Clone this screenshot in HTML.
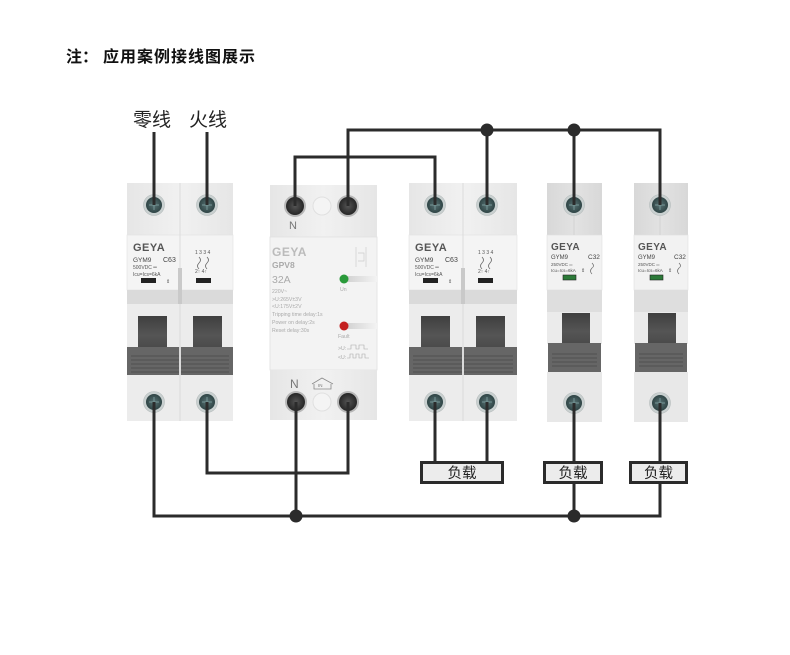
<!DOCTYPE html>
<html><head><meta charset="utf-8"><style>
html,body{margin:0;padding:0;background:#fff;}
svg{display:block;}
text{font-family:"Liberation Sans","Noto Sans CJK SC",sans-serif;}
</style></head><body>
<svg width="790" height="655" viewBox="0 0 790 655" xmlns="http://www.w3.org/2000/svg">
<defs>
<linearGradient id="topg" x1="0" x2="1" y1="0" y2="0">
<stop offset="0" stop-color="#e6e6e6"/><stop offset="0.5" stop-color="#f1f1f1"/><stop offset="1" stop-color="#e6e6e6"/></linearGradient>
<linearGradient id="topgs" x1="0" x2="1" y1="0" y2="0">
<stop offset="0" stop-color="#d8d8d8"/><stop offset="0.5" stop-color="#e2e2e2"/><stop offset="1" stop-color="#d8d8d8"/></linearGradient>
<linearGradient id="hdl" x1="0" x2="0" y1="0" y2="1">
<stop offset="0" stop-color="#3f3f3f"/><stop offset="0.6" stop-color="#555"/><stop offset="1" stop-color="#4a4a4a"/></linearGradient>
<linearGradient id="led" x1="0" x2="1" y1="0" y2="0">
<stop offset="0" stop-color="#cfcfcf"/><stop offset="1" stop-color="#f3f3f3"/></linearGradient>
<radialGradient id="scr" cx="0.5" cy="0.5" r="0.5">
<stop offset="0" stop-color="#587374"/><stop offset="1" stop-color="#2f4445"/></radialGradient>
<radialGradient id="scrd" cx="0.5" cy="0.5" r="0.5">
<stop offset="0" stop-color="#555"/><stop offset="1" stop-color="#262626"/></radialGradient>
</defs>

<!-- Title -->
<text x="66" y="62" font-size="16" font-weight="bold" fill="#111">注：</text>
<text x="103" y="62" font-size="16" font-weight="bold" fill="#111" letter-spacing="1">应用案例接线图展示</text>
<text x="133" y="126" font-size="19" fill="#222">零线</text>
<text x="189" y="126" font-size="19" fill="#222">火线</text>

<!-- ===== Breaker 1 (2-pole) x=127 ===== -->
<g>
<rect x="127" y="183" width="106" height="52" fill="url(#topg)"/>
<rect x="127" y="235" width="106" height="55" fill="#f4f4f4" stroke="#e2e2e2" stroke-width="0.6"/>
<rect x="127" y="290" width="106" height="14" fill="#dadada"/>
<rect x="127" y="304" width="106" height="44" fill="#ececec"/>
<rect x="138" y="316" width="29" height="32" fill="url(#hdl)"/>
<rect x="193" y="316" width="29" height="32" fill="url(#hdl)"/>
<rect x="127" y="347" width="52" height="28" fill="#666"/>
<rect x="181" y="347" width="52" height="28" fill="#666"/>
<g stroke="#505050" stroke-width="1"><line x1="131" y1="356" x2="229" y2="356"/><line x1="131" y1="360" x2="229" y2="360"/><line x1="131" y1="364" x2="229" y2="364"/><line x1="131" y1="368" x2="229" y2="368"/><line x1="131" y1="372" x2="229" y2="372"/></g>
<line x1="180" y1="347" x2="180" y2="375" stroke="#ddd" stroke-width="2"/>
<rect x="127" y="375" width="106" height="46" fill="#ececec"/>
<line x1="180" y1="183" x2="180" y2="421" stroke="#d6d6d6" stroke-width="0.8"/>
<rect x="178" y="268" width="4" height="36" fill="#c9c9c9"/>
<text x="133" y="251" font-size="11" font-weight="bold" fill="#555" letter-spacing="0.5">GEYA</text>
<text x="133" y="262" font-size="6.5" fill="#444">GYM9</text>
<text x="163" y="262" font-size="7" fill="#444">C63</text>
<text x="133" y="269" font-size="5" fill="#555">500VDC ═</text>
<text x="133" y="276" font-size="5" fill="#555">Icu=Ics=6kA</text>
<rect x="141" y="278" width="15" height="5" fill="#222"/>
<text x="166" y="283" font-size="5" fill="#555">⇕</text>
<rect x="196" y="278" width="15" height="5" fill="#222"/>
<text x="195" y="254" font-size="5" fill="#555">1 3 3 4</text>
<path d="M199 257 q3 3 0 6 q-3 3 0 6 M207 257 q3 3 0 6 q-3 3 0 6" stroke="#666" fill="none" stroke-width="0.8"/>
<text x="195" y="273" font-size="5" fill="#555">2↑ 4↑</text>
</g>

<!-- ===== GPV8 x=270 ===== -->
<g>
<rect x="270" y="185" width="107" height="52" fill="url(#topg)"/>
<rect x="270" y="237" width="107" height="133" fill="#f3f3f3" stroke="#e0e0e0" stroke-width="0.8"/>
<rect x="270" y="370" width="107" height="50" fill="url(#topg)"/>
<circle cx="322" cy="206" r="9" fill="#f4f4f4" stroke="#e0e0e0"/>
<circle cx="322" cy="402" r="9" fill="#f4f4f4" stroke="#e0e0e0"/>
<text x="289" y="229" font-size="11" fill="#777">N</text>
<text x="290" y="388" font-size="12" fill="#777">N</text>
<path d="M312 384 L322 378 L333 384 M314 384 V389 H331 V384" stroke="#888" fill="none" stroke-width="0.8"/>
<text x="318" y="387" font-size="4.5" fill="#777">IN</text>
<text x="272" y="256" font-size="12" font-weight="bold" fill="#bbb" letter-spacing="0.5">GEYA</text>
<text x="272" y="268" font-size="8.5" font-weight="bold" fill="#aaa">GPV8</text>
<text x="272" y="283" font-size="10.5" fill="#aaa">32A</text>
<g font-size="5.2" fill="#aaa">
<text x="272" y="293">220V~</text>
<text x="272" y="301">&gt;U:265V±3V</text>
<text x="272" y="308">&lt;U:175V±2V</text>
<text x="272" y="316">Tripping time delay:1s</text>
<text x="272" y="324">Power on delay:2s</text>
<text x="272" y="332">Reset delay:30s</text>
<text x="340" y="291">Un</text>
<text x="338" y="338">Fault</text>
<text x="338" y="350">&gt;U:</text>
<text x="338" y="359">&lt;U:</text>
</g>
<path d="M347 349 h4 v-4 h5 v4 h3 v-4 h5 v4 h4 M347 358 h3 v-4 h3 v4 h3 v-4 h3 v4 h3 v-4 h3 v4 h4" stroke="#aaa" fill="none" stroke-width="0.6"/>
<path d="M356 247 v20 M358 253 h6 v8 h-6 M366 247 v20" stroke="#ccc" fill="none" stroke-width="0.7"/>
<rect x="344" y="276" width="33" height="6" fill="url(#led)"/>
<circle cx="344" cy="279" r="4.5" fill="#2a9a3a"/>
<rect x="344" y="323" width="33" height="6" fill="url(#led)"/>
<circle cx="344" cy="326" r="4.5" fill="#c42020"/>
</g>

<!-- ===== Breaker 3 (2-pole) x=409 ===== -->
<g>
<rect x="409" y="183" width="108" height="52" fill="url(#topg)"/>
<rect x="409" y="235" width="108" height="55" fill="#f4f4f4" stroke="#e2e2e2" stroke-width="0.6"/>
<rect x="409" y="290" width="108" height="14" fill="#dadada"/>
<rect x="409" y="304" width="108" height="44" fill="#ececec"/>
<rect x="421" y="316" width="29" height="32" fill="url(#hdl)"/>
<rect x="476" y="316" width="29" height="32" fill="url(#hdl)"/>
<rect x="409" y="347" width="53" height="28" fill="#666"/>
<rect x="464" y="347" width="53" height="28" fill="#666"/>
<g stroke="#505050" stroke-width="1"><line x1="413" y1="356" x2="513" y2="356"/><line x1="413" y1="360" x2="513" y2="360"/><line x1="413" y1="364" x2="513" y2="364"/><line x1="413" y1="368" x2="513" y2="368"/><line x1="413" y1="372" x2="513" y2="372"/></g>
<line x1="463" y1="347" x2="463" y2="375" stroke="#ddd" stroke-width="2"/>
<rect x="409" y="375" width="108" height="46" fill="#ececec"/>
<line x1="463" y1="183" x2="463" y2="421" stroke="#d6d6d6" stroke-width="0.8"/>
<rect x="461" y="268" width="4" height="36" fill="#c9c9c9"/>
<text x="415" y="251" font-size="11" font-weight="bold" fill="#555" letter-spacing="0.5">GEYA</text>
<text x="415" y="262" font-size="6.5" fill="#444">GYM9</text>
<text x="445" y="262" font-size="7" fill="#444">C63</text>
<text x="415" y="269" font-size="5" fill="#555">500VDC ═</text>
<text x="415" y="276" font-size="5" fill="#555">Icu=Ics=6kA</text>
<rect x="423" y="278" width="15" height="5" fill="#222"/>
<text x="448" y="283" font-size="5" fill="#555">⇕</text>
<rect x="478" y="278" width="15" height="5" fill="#222"/>
<text x="478" y="254" font-size="5" fill="#555">1 3 3 4</text>
<path d="M482 257 q3 3 0 6 q-3 3 0 6 M490 257 q3 3 0 6 q-3 3 0 6" stroke="#666" fill="none" stroke-width="0.8"/>
<text x="478" y="273" font-size="5" fill="#555">2↑ 4↑</text>
</g>

<!-- ===== Single breaker 4 x=547 ===== -->
<g>
<rect x="547" y="183" width="55" height="52" fill="url(#topgs)"/>
<rect x="547" y="235" width="55" height="55" fill="#f2f2f2" stroke="#e0e0e0" stroke-width="0.6"/>
<rect x="547" y="290" width="55" height="22" fill="#dedede"/>
<rect x="547" y="312" width="55" height="32" fill="#ebebeb"/>
<rect x="562" y="313" width="28" height="31" fill="url(#hdl)"/>
<rect x="548" y="343" width="53" height="29" fill="#666"/>
<g stroke="#505050" stroke-width="1"><line x1="552" y1="354" x2="597" y2="354"/><line x1="552" y1="358" x2="597" y2="358"/><line x1="552" y1="362" x2="597" y2="362"/><line x1="552" y1="366" x2="597" y2="366"/></g>
<rect x="547" y="372" width="55" height="50" fill="#e8e8e8"/>
<line x1="574" y1="183" x2="574" y2="235" stroke="#cfcfcf" stroke-width="0.8"/>
<text x="551" y="250" font-size="10" font-weight="bold" fill="#555" letter-spacing="0.4">GEYA</text>
<text x="551" y="259" font-size="6" fill="#444">GYM9</text>
<text x="588" y="259" font-size="6.5" fill="#444">C32</text>
<text x="551" y="266" font-size="4.5" fill="#555">250VDC ═</text>
<text x="551" y="272" font-size="4.5" fill="#555">Icu=Ics=6kA</text>
<rect x="563" y="275" width="13" height="5" fill="#2c7a38" stroke="#222" stroke-width="0.6"/>
<text x="581" y="272" font-size="5" fill="#555">⇕</text>
<path d="M592 263 q3 3 0 5 q-3 3 0 6" stroke="#666" fill="none" stroke-width="0.7"/>
</g>

<!-- ===== Single breaker 5 x=634 ===== -->
<g>
<rect x="634" y="183" width="54" height="52" fill="url(#topgs)"/>
<rect x="634" y="235" width="54" height="55" fill="#f2f2f2" stroke="#e0e0e0" stroke-width="0.6"/>
<rect x="634" y="290" width="54" height="22" fill="#dedede"/>
<rect x="634" y="312" width="54" height="32" fill="#ebebeb"/>
<rect x="648" y="313" width="28" height="31" fill="url(#hdl)"/>
<rect x="635" y="343" width="52" height="29" fill="#666"/>
<g stroke="#505050" stroke-width="1"><line x1="639" y1="354" x2="683" y2="354"/><line x1="639" y1="358" x2="683" y2="358"/><line x1="639" y1="362" x2="683" y2="362"/><line x1="639" y1="366" x2="683" y2="366"/></g>
<rect x="634" y="372" width="54" height="50" fill="#e8e8e8"/>
<line x1="660" y1="183" x2="660" y2="235" stroke="#cfcfcf" stroke-width="0.8"/>
<text x="638" y="250" font-size="10" font-weight="bold" fill="#555" letter-spacing="0.4">GEYA</text>
<text x="638" y="259" font-size="6" fill="#444">GYM9</text>
<text x="674" y="259" font-size="6.5" fill="#444">C32</text>
<text x="638" y="266" font-size="4.5" fill="#555">250VDC ═</text>
<text x="638" y="272" font-size="4.5" fill="#555">Icu=Ics=6kA</text>
<rect x="650" y="275" width="13" height="5" fill="#2c7a38" stroke="#222" stroke-width="0.6"/>
<text x="668" y="272" font-size="5" fill="#555">⇕</text>
<path d="M679 263 q3 3 0 5 q-3 3 0 6" stroke="#666" fill="none" stroke-width="0.7"/>
</g>

<!-- Screws (teal breakers) -->
<g>
<g fill="#c9d0d0" stroke="#b5bcbc" stroke-width="0.6">
<circle cx="154" cy="205" r="10.5"/><circle cx="207" cy="205" r="10.5"/>
<circle cx="154" cy="402" r="10.5"/><circle cx="207" cy="402" r="10.5"/>
<circle cx="435" cy="205" r="10.5"/><circle cx="487" cy="205" r="10.5"/>
<circle cx="435" cy="402" r="10.5"/><circle cx="487" cy="402" r="10.5"/>
<circle cx="574" cy="205" r="10.5"/><circle cx="574" cy="403" r="10.5"/>
<circle cx="660" cy="205" r="10.5"/><circle cx="660" cy="403" r="10.5"/>
</g>
<g fill="url(#scr)">
<circle cx="154" cy="205" r="8"/><circle cx="207" cy="205" r="8"/>
<circle cx="154" cy="402" r="8"/><circle cx="207" cy="402" r="8"/>
<circle cx="435" cy="205" r="8"/><circle cx="487" cy="205" r="8"/>
<circle cx="435" cy="402" r="8"/><circle cx="487" cy="402" r="8"/>
<circle cx="574" cy="205" r="8"/><circle cx="574" cy="403" r="8"/>
<circle cx="660" cy="205" r="8"/><circle cx="660" cy="403" r="8"/>
</g>
<!-- GPV screws -->
<g fill="#b8b8b8"><circle cx="295" cy="206" r="11"/><circle cx="348" cy="206" r="11"/><circle cx="296" cy="402" r="11"/><circle cx="348" cy="402" r="11"/></g>
<g fill="url(#scrd)"><circle cx="295" cy="206" r="9"/><circle cx="348" cy="206" r="9"/><circle cx="296" cy="402" r="9"/><circle cx="348" cy="402" r="9"/></g>
<g stroke="#8aa" stroke-width="1.2" opacity="0.6">
<path d="M149 205h10M154 200v10M202 205h10M207 200v10M430 205h10M435 200v10M482 205h10M487 200v10M569 205h10M574 200v10M655 205h10M660 200v10"/>
<path d="M149 402h10M154 397v10M202 402h10M207 397v10M430 402h10M435 397v10M482 402h10M487 397v10M569 403h10M574 398v10M655 403h10M660 398v10"/>
</g>
</g>

<!-- Wires -->
<g stroke="#2b2b2b" stroke-width="3" fill="none" stroke-linejoin="miter">
<path d="M154 132V205"/>
<path d="M207 132V205"/>
<path d="M295 206V157H435V205"/>
<path d="M348 206V130H660V205"/>
<path d="M487 130V205"/>
<path d="M574 130V205"/>
<path d="M154 402V516H660V483"/>
<path d="M207 402V473H348V402"/>
<path d="M296 402V516"/>
<path d="M435 402V462"/>
<path d="M487 402V462"/>
<path d="M574 403V462"/>
<path d="M574 483V516"/>
<path d="M660 403V462"/>
</g>
<g fill="#2b2b2b">
<circle cx="487" cy="130" r="6.5"/><circle cx="574" cy="130" r="6.5"/>
<circle cx="296" cy="516" r="6.5"/><circle cx="574" cy="516" r="6.5"/>
</g>

<!-- Loads -->
<g stroke="#2b2b2b" stroke-width="3" fill="#ececec">
<rect x="421.5" y="462.5" width="81" height="20"/>
<rect x="544.5" y="462.5" width="57" height="20"/>
<rect x="630.5" y="462.5" width="56" height="20"/>
</g>
<g font-size="14.5" fill="#222" text-anchor="middle">
<text x="462" y="478">负载</text>
<text x="573" y="478">负载</text>
<text x="658.5" y="478">负载</text>
</g>
</svg>
</body></html>
